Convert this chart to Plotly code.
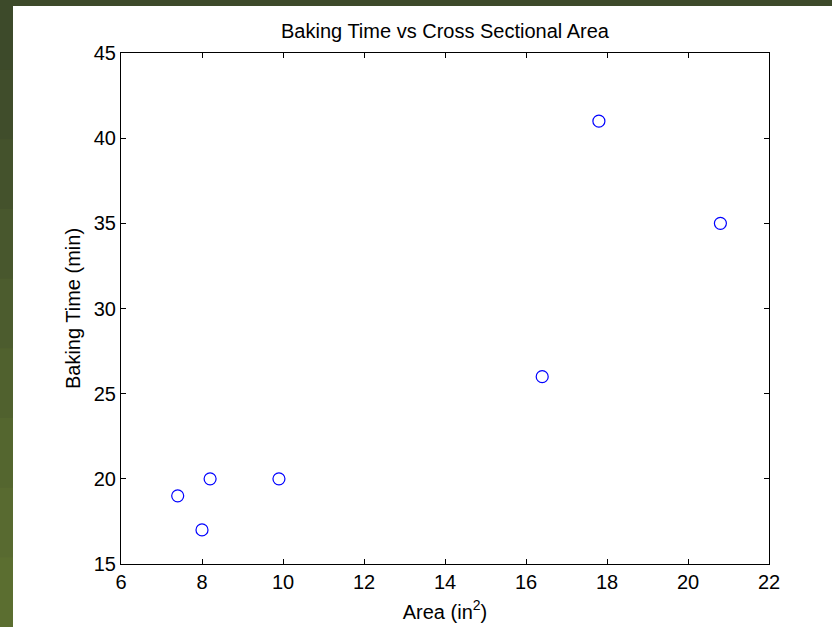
import plotly.graph_objects as go

area = [7.4, 8.0, 8.2, 9.9, 16.4, 17.8, 20.8]
baking_time = [19, 17, 20, 20, 26, 41, 35]
x_ticks = [6, 8, 10, 12, 14, 16, 18, 20, 22]
y_ticks = [15, 20, 25, 30, 35, 40, 45]

W, H = 832, 627
ml, mr, mt, mb = 121, 63, 53, 63
pw, ph = W - ml - mr, H - mt - mb

def px_to_paper_x(px):
    return (px - ml) / pw

def px_to_paper_y(py):
    return (H - mb - py) / ph

fig = go.Figure()
fig.add_trace(go.Scatter(
    x=area, y=baking_time, mode="markers",
    marker=dict(symbol="circle-open", size=12, color="#0000ff", line=dict(width=1.2, color="#0000ff")),
    showlegend=False, cliponaxis=False,
))

shapes = []
cols = ["#3d4a2a", "#404d2b", "#44522c", "#48572d", "#4c5c2e", "#50612e", "#54662f", "#586a30", "#5b6e30"]
n = len(cols)
for i, c in enumerate(cols):
    y0 = H * i / n
    y1 = H * (i + 1) / n + 1
    shapes.append(dict(type="rect", xref="paper", yref="paper", layer="below",
                       x0=px_to_paper_x(0), x1=px_to_paper_x(13),
                       y0=px_to_paper_y(y1), y1=px_to_paper_y(y0),
                       fillcolor=c, line=dict(width=0)))
shapes.append(dict(type="rect", xref="paper", yref="paper", layer="below",
                   x0=px_to_paper_x(0), x1=px_to_paper_x(W),
                   y0=px_to_paper_y(6), y1=px_to_paper_y(0),
                   fillcolor="#3d4a2a", line=dict(width=0)))

FS = 20
fig.update_layout(
    width=W, height=H,
    margin=dict(l=ml, r=mr, t=mt, b=mb),
    paper_bgcolor="white", plot_bgcolor="white",
    font=dict(family="Liberation Sans, Arial, sans-serif", size=FS, color="black"),
    title=dict(text="Baking Time vs Cross Sectional Area", x=0.5, xref="paper", xanchor="center",
               y=1 - 31 / H, yanchor="middle", font=dict(size=FS)),
    shapes=shapes,
    xaxis=dict(range=[6, 22], tickvals=x_ticks, ticks="inside", ticklen=5, tickcolor="black",
               showline=True, linecolor="black", linewidth=1, mirror="ticks", showgrid=False,
               zeroline=False, title=dict(text="Area (in<sup>2</sup>)", standoff=12, font=dict(size=FS)),
               tickfont=dict(size=FS), automargin=False),
    yaxis=dict(range=[15, 45], tickvals=y_ticks, ticks="inside", ticklen=5, tickcolor="black",
               showline=True, linecolor="black", linewidth=1, mirror="ticks", showgrid=False,
               zeroline=False, title=dict(text="Baking Time (min)", standoff=7, font=dict(size=FS)),
               tickfont=dict(size=FS), automargin=False),
)

fig.write_html("out.html")
